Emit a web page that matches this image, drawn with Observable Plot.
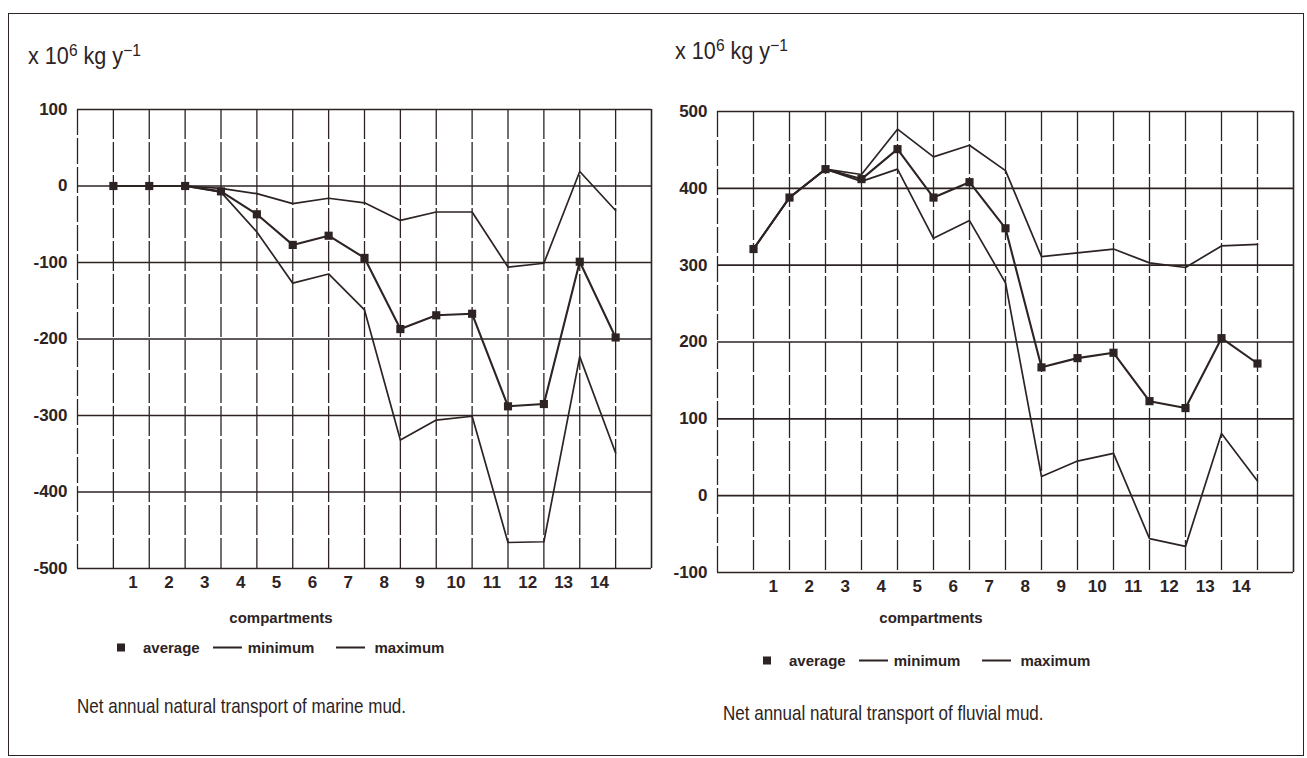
<!DOCTYPE html>
<html>
<head>
<meta charset="utf-8">
<script src="https://cdn.jsdelivr.net/npm/d3@7"></script>
<script src="https://cdn.jsdelivr.net/npm/@observablehq/plot@0.6"></script>
<style>
  body { margin: 0; background: #fff; }
  #page { position: relative; width: 1307px; height: 758px; overflow: hidden; background: #fff; color: #2d2323; }
  #frame { position: absolute; left: 8px; top: 13px; width: 1296px; height: 743px; border: 1.5px solid #2d2323; box-sizing: border-box; }
  .chart { position: absolute; top: 0; }
  .unit { position: absolute; font-family: "Liberation Sans", Arial, sans-serif; font-size: 23px; white-space: nowrap; line-height: 1; transform-origin: 0 0; transform: scaleX(0.94); }
  .unit sup { font-size: 0.72em; vertical-align: 0; position: relative; top: -0.5em; }
  .xlabel { position: absolute; font: bold 15px "Liberation Sans", Arial, sans-serif; white-space: nowrap; transform: translate(-50%, -50%); }
  .legend { position: absolute; display: flex; align-items: center; font: bold 15px "Liberation Sans", Arial, sans-serif; white-space: nowrap; transform: translateY(-50%); }
  .legend .sq { width: 8px; height: 8px; background: #2d2323; margin-right: 18px; }
  .legend .ln { width: 29px; height: 0; border-top: 2px solid #2d2323; }
  .caption { position: absolute; font-family: "Liberation Sans", Arial, sans-serif; font-size: 21px; white-space: nowrap; transform-origin: 0 50%; transform: translateY(-50%) scaleX(0.81); }
</style>
</head>
<body>
<div id="page">
  <div id="frame"></div>
</div>
<script>
// ---- data ----
const compartments = [1, 2, 3, 4, 5, 6, 7, 8, 9, 10, 11, 12, 13, 14, 15];
const xTickLabels = [1, 2, 3, 4, 5, 6, 7, 8, 9, 10, 11, 12, 13, 14];

// Marine mud (x 10^6 kg/y)
const marineAverage = [0, 0, 0, -7, -37, -77, -65, -94, -187, -169, -167, -288, -285, -99, -198];
const marineMinimum = [0, 0, 0, -8, -60, -127, -115, -162, -332, -306, -301, -466, -465, -223, -349];
const marineMaximum = [0, 0, 0, -3, -10, -23, -16, -22, -45, -34, -34, -106, -101, 19, -32];
const marineYTicks = [100, 0, -100, -200, -300, -400, -500];

// Fluvial mud (x 10^6 kg/y)
const fluvialAverage = [321, 388, 425, 412, 451, 388, 408, 348, 167, 179, 186, 123, 114, 205, 172];
const fluvialMinimum = [321, 388, 425, 409, 425, 335, 358, 277, 25, 45, 55, -56, -66, 81, 19];
const fluvialMaximum = [321, 388, 425, 418, 477, 441, 456, 423, 311, 316, 321, 303, 297, 325, 327];
const fluvialYTicks = [500, 400, 300, 200, 100, 0, -100];

const legendLabels = ["average", "minimum", "maximum"];
const xTitle = "compartments";
const captions = ["Net annual natural transport of marine mud.", "Net annual natural transport of fluvial mud."];

const INK = "#2d2323";

function makeChart({avg, mn, mx, yTicks, width, height, ml, mr, mt, mb}) {
  const rows = compartments.map((c, i) => ({c, avg: avg[i], min: mn[i], max: mx[i]}));
  const yDom = [d3.min(yTicks), d3.max(yTicks)];
  return Plot.plot({
    width, height,
    marginLeft: ml, marginRight: mr, marginTop: mt, marginBottom: mb,
    style: `font: bold 17px "Liberation Sans", Arial, sans-serif; color: ${INK}; background: transparent; overflow: visible;`,
    x: {domain: [0, compartments.length + 1], axis: null},
    y: {domain: yDom, axis: null},
    marks: [
      Plot.ruleX(compartments, {stroke: INK, strokeWidth: 1.3, strokeDasharray: "30,3"}),
      Plot.ruleX([0], {stroke: INK, strokeWidth: 1.3, strokeDasharray: "26,3"}),
      Plot.ruleX([compartments.length + 1], {stroke: INK, strokeWidth: 1.6}),
      Plot.ruleY(yTicks, {stroke: INK, strokeWidth: 1.7}),
      Plot.line(rows, {x: "c", y: "max", stroke: INK, strokeWidth: 1.7}),
      Plot.line(rows, {x: "c", y: "min", stroke: INK, strokeWidth: 1.7}),
      Plot.line(rows, {x: "c", y: "avg", stroke: INK, strokeWidth: 2.1}),
      Plot.dot(rows, {x: "c", y: "avg", symbol: "square", r: 4.6, fill: INK, stroke: "none"}),
      Plot.axisY({ticks: yTicks, tickSize: 0, tickPadding: 10, tickFormat: d => String(d), label: null}),
      Plot.axisX({ticks: xTickLabels.map(d => d + 0.55), tickSize: 0, tickPadding: 7,
                  tickFormat: d => String(Math.round(d - 0.55)), label: null})
    ]
  });
}

const page = document.getElementById("page");

function place(el, left, top) {
  el.style.left = left + "px";
  el.style.top = top + "px";
  page.appendChild(el);
  return el;
}

// Left chart
const left = makeChart({avg: marineAverage, mn: marineMinimum, mx: marineMaximum, yTicks: marineYTicks,
  width: 660, height: 600, ml: 77, mr: 9, mt: 109, mb: 32});
left.classList.add("chart");
place(left, 0, 0);

// Right chart
const right = makeChart({avg: fluvialAverage, mn: fluvialMinimum, mx: fluvialMaximum, yTicks: fluvialYTicks,
  width: 650, height: 600, ml: 67, mr: 7, mt: 111, mb: 28});
right.classList.add("chart");
place(right, 650, 0);

function unitLabel(left, top) {
  const d = document.createElement("div");
  d.className = "unit";
  d.innerHTML = "x 10<sup>6</sup> kg y<sup>\u22121</sup>";
  place(d, left, top);
}
unitLabel(28, 45);
unitLabel(675, 40);

function xTitleLabel(cx, cy) {
  const d = document.createElement("div");
  d.className = "xlabel";
  d.textContent = xTitle;
  place(d, cx, cy);
}
xTitleLabel(281, 617);
xTitleLabel(931, 617);

function legend(left, cy) {
  const d = document.createElement("div");
  d.className = "legend";
  const sq = document.createElement("span"); sq.className = "sq"; d.appendChild(sq);
  const t0 = document.createElement("span"); t0.textContent = legendLabels[0]; t0.style.marginRight = "13px"; d.appendChild(t0);
  const l1 = document.createElement("span"); l1.className = "ln"; l1.style.marginRight = "6px"; d.appendChild(l1);
  const t1 = document.createElement("span"); t1.textContent = legendLabels[1]; t1.style.marginRight = "22px"; d.appendChild(t1);
  const l2 = document.createElement("span"); l2.className = "ln"; l2.style.marginRight = "9px"; d.appendChild(l2);
  const t2 = document.createElement("span"); t2.textContent = legendLabels[2]; d.appendChild(t2);
  place(d, left, cy);
}
legend(117, 647);
legend(763, 660);

function caption(text, left, cy) {
  const d = document.createElement("div");
  d.className = "caption";
  d.textContent = text;
  place(d, left, cy);
}
caption(captions[0], 77, 706);
caption(captions[1], 723, 713);
</script>
</body>
</html>
